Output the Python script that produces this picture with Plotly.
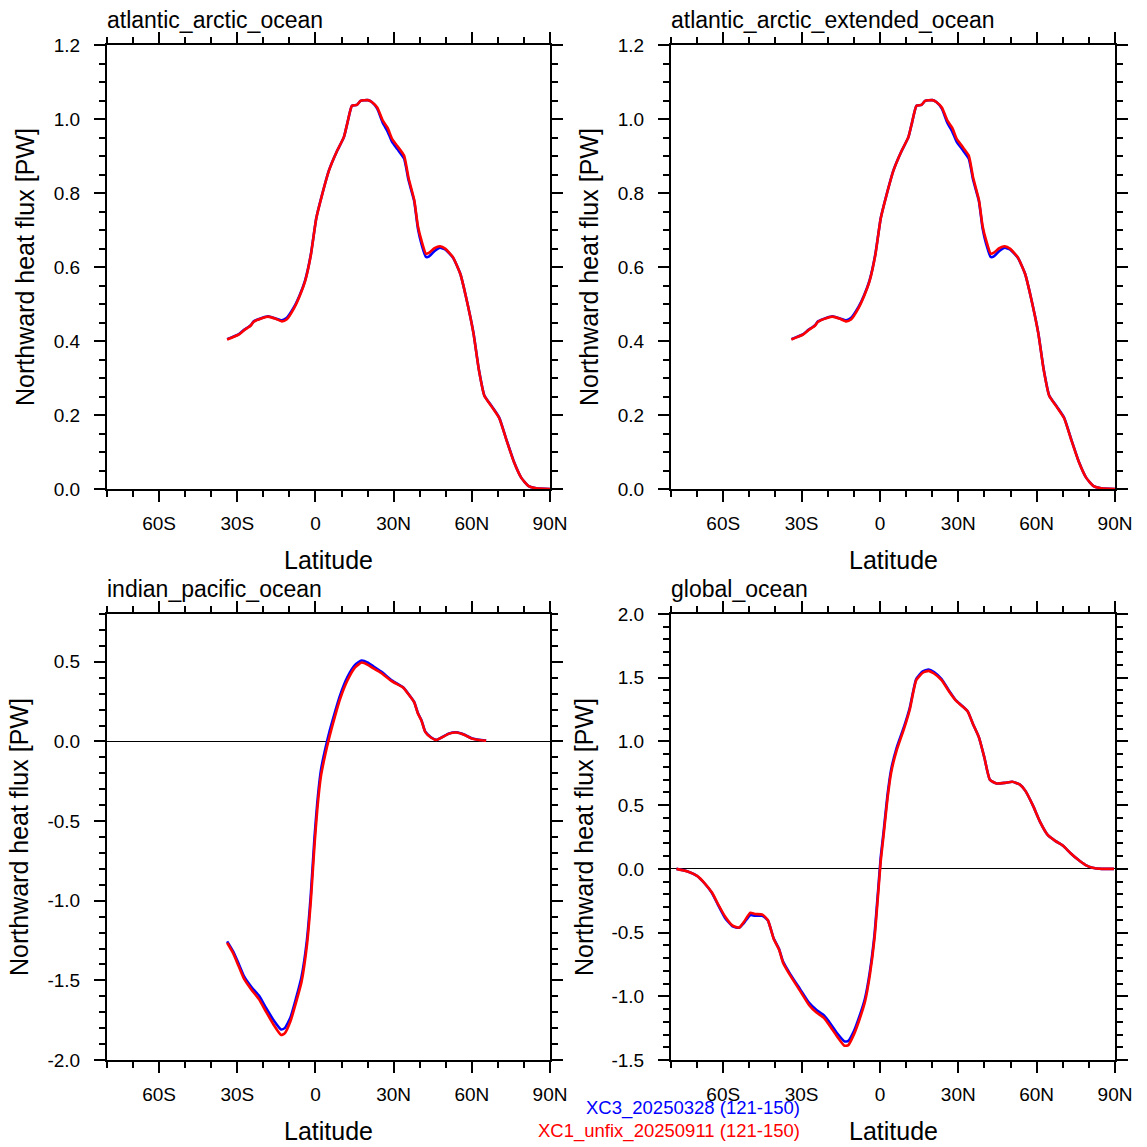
import plotly.graph_objects as go

W = H = 1147
FONT = "Liberation Sans, Arial, sans-serif"

# ---------------- data ----------------
panel_titles = ["atlantic_arctic_ocean", "atlantic_arctic_extended_ocean",
                "indian_pacific_ocean", "global_ocean"]
series_names = ["XC3_20250328 (121-150)", "XC1_unfix_20250911 (121-150)"]
lat_tickvals = [-60, -30, 0, 30, 60, 90]
lat_ticktext = ["60S", "30S", "0", "30N", "60N", "90N"]

atl_lat = [-33.9, -29.5, -27.4, -24.8, -23.7, -20.3, -18.2, -15.3, -12.9, -11.1,
           -8.2, -6.1, -4.0, -1.8, 0.3, 2.4, 5.2, 8.1, 10.9, 12.3,
           14.0, 15.9, 17.3, 20.1, 21.6, 23.7, 25.8, 27.7, 29.4, 31.5,
           34.0, 35.7, 37.9, 39.3, 40.7, 42.4, 43.5, 45.7, 47.8, 49.9,
           52.8, 55.6, 57.7, 60.6, 62.7, 64.8, 67.7, 70.5, 73.3, 76.2,
           79.0, 81.8, 84.7, 90.0]
atl_red = [0.404, 0.417, 0.429, 0.442, 0.452, 0.462, 0.466, 0.460, 0.453, 0.458,
           0.489, 0.521, 0.561, 0.631, 0.731, 0.791, 0.861, 0.911, 0.951, 0.991,
           1.036, 1.038, 1.049, 1.051, 1.046, 1.031, 0.996, 0.976, 0.946, 0.926,
           0.901, 0.841, 0.781, 0.711, 0.671, 0.636, 0.638, 0.651, 0.656, 0.649,
           0.626, 0.581, 0.521, 0.422, 0.322, 0.252, 0.222, 0.192, 0.132, 0.072,
           0.030, 0.008, 0.002, 0.0]
atl_blue = [0.405, 0.418, 0.430, 0.443, 0.453, 0.463, 0.467, 0.461, 0.456, 0.462,
            0.492, 0.523, 0.563, 0.633, 0.732, 0.792, 0.862, 0.911, 0.951, 0.991,
            1.036, 1.038, 1.049, 1.051, 1.046, 1.028, 0.990, 0.966, 0.938, 0.918,
            0.893, 0.835, 0.778, 0.705, 0.662, 0.627, 0.628, 0.643, 0.652, 0.647,
            0.625, 0.581, 0.521, 0.423, 0.323, 0.253, 0.223, 0.193, 0.133, 0.073,
            0.030, 0.008, 0.002, 0.0]

ip_lat = [-33.9, -31.6, -29.5, -27.4, -24.5, -21.7, -18.9, -16.0, -13.2, -11.8,
          -9.6, -7.5, -5.4, -3.3, -1.8, -0.4, 0.7, 2.1, 3.8, 5.5,
          7.4, 9.5, 12.3, 15.2, 17.7, 20.1, 22.3, 25.1, 29.4, 33.6,
          35.7, 37.9, 39.3, 40.7, 42.1, 44.3, 46.4, 48.5, 51.3, 54.2,
          57.0, 59.9, 62.7, 65.5]
ip_red = [-1.264, -1.329, -1.410, -1.491, -1.560, -1.618, -1.699, -1.780, -1.843, -1.833,
          -1.757, -1.641, -1.514, -1.282, -1.005, -0.657, -0.426, -0.218, -0.079, 0.037,
          0.153, 0.269, 0.384, 0.465, 0.495, 0.481, 0.458, 0.431, 0.377, 0.338,
          0.296, 0.245, 0.176, 0.130, 0.060, 0.025, 0.009, 0.025, 0.049, 0.056,
          0.042, 0.019, 0.009, 0.005]
ip_blue = [-1.255, -1.318, -1.395, -1.475, -1.543, -1.595, -1.675, -1.752, -1.808, -1.800,
           -1.733, -1.615, -1.482, -1.250, -0.965, -0.610, -0.385, -0.180, -0.045, 0.070,
           0.180, 0.292, 0.405, 0.480, 0.508, 0.495, 0.470, 0.440, 0.382, 0.340,
           0.298, 0.247, 0.178, 0.132, 0.062, 0.026, 0.010, 0.026, 0.050, 0.057,
           0.043, 0.020, 0.010, 0.006]

gl_lat = [-77.9, -73.6, -70.0, -67.1, -64.3, -62.1, -59.3, -56.4, -53.9, -52.1,
          -49.6, -47.9, -45.0, -42.9, -40.7, -38.6, -37.1, -34.3, -30.7, -27.1,
          -24.3, -21.4, -19.3, -16.4, -13.6, -12.1, -10.0, -7.9, -5.7, -3.9,
          -2.1, -0.7, 0.3, 1.4, 2.9, 4.3, 6.4, 9.3, 11.4, 13.9,
          16.4, 18.6, 20.7, 23.6, 26.4, 29.0, 31.4, 33.6, 35.7, 37.9,
          40.0, 42.1, 44.7, 47.9, 50.7, 53.6, 55.7, 58.6, 61.4, 64.3,
          67.1, 70.0, 72.9, 75.7, 78.6, 81.4, 85.0, 89.6]
gl_red = [0.0, -0.020, -0.055, -0.113, -0.186, -0.272, -0.374, -0.446, -0.461, -0.417,
          -0.345, -0.354, -0.359, -0.403, -0.548, -0.635, -0.736, -0.838, -0.954, -1.070,
          -1.128, -1.171, -1.229, -1.316, -1.388, -1.383, -1.301, -1.186, -1.041, -0.838,
          -0.548, -0.200, 0.061, 0.264, 0.554, 0.757, 0.930, 1.104, 1.249, 1.481,
          1.539, 1.554, 1.533, 1.481, 1.394, 1.322, 1.278, 1.235, 1.133, 1.032,
          0.872, 0.699, 0.670, 0.675, 0.684, 0.661, 0.612, 0.496, 0.365, 0.264,
          0.220, 0.183, 0.125, 0.075, 0.032, 0.009, 0.0, 0.0]
gl_blue = [0.0, -0.020, -0.056, -0.115, -0.190, -0.278, -0.385, -0.452, -0.462, -0.425,
           -0.362, -0.368, -0.368, -0.405, -0.545, -0.630, -0.728, -0.828, -0.940, -1.052,
           -1.108, -1.150, -1.205, -1.290, -1.354, -1.350, -1.275, -1.160, -1.015, -0.812,
           -0.520, -0.170, 0.090, 0.290, 0.580, 0.780, 0.950, 1.120, 1.262, 1.490,
           1.550, 1.565, 1.545, 1.490, 1.400, 1.325, 1.280, 1.236, 1.133, 1.032,
           0.872, 0.699, 0.670, 0.675, 0.684, 0.661, 0.612, 0.496, 0.365, 0.264,
           0.220, 0.183, 0.125, 0.075, 0.032, 0.009, 0.0, 0.0]

y_ranges = [[0, 1.2], [0, 1.2], [-2.0, 0.8], [-1.5, 2.0]]
y_tickvals = [[0.0, 0.2, 0.4, 0.6, 0.8, 1.0, 1.2],
              [0.0, 0.2, 0.4, 0.6, 0.8, 1.0, 1.2],
              [-2.0, -1.5, -1.0, -0.5, 0.0, 0.5],
              [-1.5, -1.0, -0.5, 0.0, 0.5, 1.0, 1.5, 2.0]]
y_ticktext = [["0.0", "0.2", "0.4", "0.6", "0.8", "1.0", "1.2"],
              ["0.0", "0.2", "0.4", "0.6", "0.8", "1.0", "1.2"],
              ["-2.0", "-1.5", "-1.0", "-0.5", "0.0", "0.5"],
              ["-1.5", "-1.0", "-0.5", "0.0", "0.5", "1.0", "1.5", "2.0"]]
y_minor = [0.05, 0.05, 0.1, 0.1]
data = [(atl_lat, atl_blue, atl_red), (atl_lat, atl_blue, atl_red),
        (ip_lat, ip_blue, ip_red), (gl_lat, gl_blue, gl_red)]

# ---------------- layout in pixels ----------------
boxes = [(107, 550, 45, 489), (671, 1115, 45, 489),
         (107, 550, 614, 1060), (671, 1115, 614, 1060)]
ytitle_x = [25, 589, 19, 584]


def px_x(p):
    return p / W


def px_y(p):
    return 1 - p / H


fig = go.Figure()
layout = dict(width=W, height=H, autosize=False,
              margin=dict(l=0, r=0, t=0, b=0, pad=0, autoexpand=False),
              paper_bgcolor="white", plot_bgcolor="white", showlegend=False,
              font=dict(family=FONT, color="black"))
annotations = []

for i in range(4):
    xl, xr, yt, yb = boxes[i]
    xa = "x" if i == 0 else f"x{i+1}"
    ya = "y" if i == 0 else f"y{i+1}"
    lat, blue, red = data[i]
    fig.add_trace(go.Scatter(x=lat, y=blue, mode="lines", name=series_names[0],
                             line=dict(color="#0000ff", width=2.6, shape="spline", smoothing=0.5),
                             xaxis=xa, yaxis=ya))
    fig.add_trace(go.Scatter(x=lat, y=red, mode="lines", name=series_names[1],
                             line=dict(color="#ff0000", width=2.6, shape="spline", smoothing=0.5),
                             xaxis=xa, yaxis=ya))
    axkey_x = "xaxis" if i == 0 else f"xaxis{i+1}"
    axkey_y = "yaxis" if i == 0 else f"yaxis{i+1}"
    layout[axkey_x] = dict(
        domain=[px_x(xl), px_x(xr)], anchor=ya, range=[-80, 90], automargin=False,
        tickmode="array", tickvals=lat_tickvals, ticktext=lat_ticktext,
        ticks="outside", ticklen=11, tickwidth=2, tickcolor="black",
        showline=True, linecolor="black", linewidth=2, mirror="ticks",
        showgrid=False, zeroline=False,
        tickfont=dict(family=FONT, size=19, color="black"),
        ticklabelstandoff=5,
        minor=dict(tickmode="linear", tick0=-80, dtick=10, ticks="outside",
                   ticklen=6, tickwidth=1.5, tickcolor="black", showgrid=False),
    )
    layout[axkey_y] = dict(
        domain=[px_y(yb), px_y(yt)], anchor=xa, range=y_ranges[i], automargin=False,
        tickmode="array", tickvals=y_tickvals[i], ticktext=y_ticktext[i],
        ticks="outside", ticklen=11, tickwidth=2, tickcolor="black",
        showline=True, linecolor="black", linewidth=2, mirror="ticks",
        showgrid=False,
        zeroline=(i >= 2), zerolinecolor="black", zerolinewidth=1,
        tickfont=dict(family=FONT, size=19, color="black"),
        ticklabelstandoff=10,
        minor=dict(tickmode="linear", tick0=0, dtick=y_minor[i], ticks="outside",
                   ticklen=6, tickwidth=1.5, tickcolor="black", showgrid=False),
    )
    # panel title
    annotations.append(dict(text=panel_titles[i], xref="paper", yref="paper",
                            x=px_x(xl - 2), y=px_y(yt - 25), xanchor="left",
                            yanchor="middle", showarrow=False,
                            font=dict(family=FONT, size=23, color="black")))
    # x title
    annotations.append(dict(text="Latitude", xref="paper", yref="paper",
                            x=px_x((xl + xr) / 2), y=px_y(yb + 71),
                            xanchor="center", yanchor="middle", showarrow=False,
                            font=dict(family=FONT, size=25, color="black")))
    # y title
    annotations.append(dict(text="Northward heat flux [PW]", xref="paper",
                            yref="paper", x=px_x(ytitle_x[i]),
                            y=px_y((yt + yb) / 2), xanchor="center",
                            yanchor="middle", textangle=-90, showarrow=False,
                            font=dict(family=FONT, size=25, color="black")))

# legend text
annotations.append(dict(text=series_names[0], xref="paper", yref="paper",
                        x=px_x(802), y=px_y(1108), xanchor="right", yanchor="middle",
                        showarrow=False, font=dict(family=FONT, size=18.5, color="#0000ff")))
annotations.append(dict(text=series_names[1], xref="paper", yref="paper",
                        x=px_x(802), y=px_y(1131), xanchor="right", yanchor="middle",
                        showarrow=False, font=dict(family=FONT, size=18.5, color="#ff0000")))

layout["annotations"] = annotations
fig.update_layout(**layout)
fig.write_html("out.html")
